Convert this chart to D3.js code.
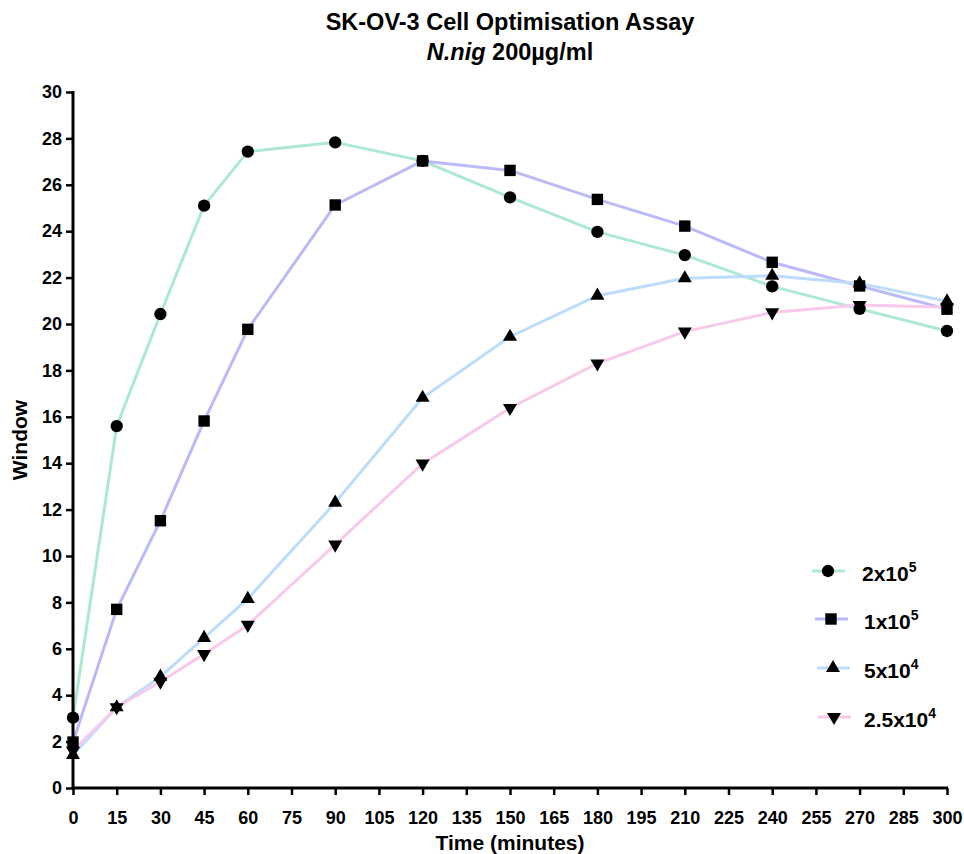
<!DOCTYPE html>
<html><head><meta charset="utf-8">
<script src="https://cdn.jsdelivr.net/npm/d3@7"></script>
<style>body{margin:0;background:#fff}svg{font-family:"Liberation Sans",Arial,sans-serif}</style>
</head><body><svg id="c" width="964" height="854"></svg>
<script>
const times = [0,15,30,45,60,90,120,150,180,210,240,270,300];
const s2e5  = [3.03,15.6,20.43,25.1,27.43,27.83,27.03,25.46,23.97,22.97,21.62,20.65,19.7];
const s1e5  = [1.98,7.7,11.52,15.82,19.77,25.13,27.03,26.62,25.37,24.22,22.66,21.64,20.64];
const s5e4  = [1.42,3.48,4.8,6.47,8.15,12.3,16.82,19.45,21.22,21.97,22.08,21.75,20.98];
const s25e4 = [1.6,3.48,4.58,5.77,7.03,10.49,13.98,16.38,18.3,19.67,20.5,20.82,20.72];
const seriesNames = ["2x10|5","1x10|5","5x10|4","2.5x10|4"];
const seriesColors = ["#ade9d2","#babaf9","#bcdcfb","#f9c9ec"];
const seriesSymbols = ["circle","square","triangle","triangleDown"];
const xTicks = d3.range(0,301,15);
const yTicks = d3.range(0,31,2);
const allSeries = [s2e5,s1e5,s5e4,s25e4];

const svg = d3.select("#c");
const x = d3.scaleLinear().domain([0,300]).range([73,947]);
const y = d3.scaleLinear().domain([0,30]).range([788,92]);

function marker(g, type){
  const sizes = {circle:120, square:130, triangle:85, triangleDown:85};
  const st = type==="circle"?d3.symbolCircle:type==="square"?d3.symbolSquare:d3.symbolTriangle;
  const p = g.append("path").attr("d", d3.symbol(st, sizes[type])()).attr("fill","#000");
  if(type==="triangleDown") p.attr("transform","rotate(180)");
  return p;
}

// lines
const line = d3.line().x((d,i)=>x(times[i])).y(d=>y(d)).curve(d3.curveLinear);
allSeries.forEach((s,k)=>{
  svg.append("path").attr("d", line(s)).attr("fill","none")
    .attr("stroke", seriesColors[k]).attr("stroke-width",3).attr("stroke-linejoin","round");
});
// markers
allSeries.forEach((s,k)=>{
  s.forEach((v,i)=>{
    const g = svg.append("g").attr("transform",`translate(${x(times[i])},${y(v)})`);
    marker(g, seriesSymbols[k]);
  });
});

// axes
const xAxis = svg.append("g").attr("transform","translate(0,788)")
  .call(d3.axisBottom(x).tickValues(xTicks).tickSize(7).tickSizeOuter(0).tickPadding(16));
const yAxis = svg.append("g").attr("transform","translate(73,0)")
  .call(d3.axisLeft(y).tickValues(yTicks).tickSize(7).tickSizeOuter(0).tickPadding(4));
[xAxis,yAxis].forEach(a=>{
  a.attr("font-size",18);
  a.select(".domain").attr("stroke","#000").attr("stroke-width",3);
  a.selectAll(".tick line").attr("stroke","#000").attr("stroke-width",2.5);
  a.selectAll(".tick text").attr("fill","#000").attr("font-size",18).attr("font-weight","bold")
   .style("font-size","18px").style("font-weight","bold")
   .attr("font-family","'Liberation Sans',Arial,sans-serif");
});
xAxis.selectAll(".tick text").attr("y",23).attr("dy","0.71em");
xAxis.select(".domain").attr("d","M72,0H948");
yAxis.select(".domain").attr("d","M0,91V789.5");

// titles
svg.append("text").attr("x",510).attr("y",30).attr("text-anchor","middle")
  .attr("font-size",23.5).attr("font-weight","bold").text("SK-OV-3 Cell Optimisation Assay");
const t2 = svg.append("text").attr("x",510).attr("y",60).attr("text-anchor","middle")
  .attr("font-size",23.5).attr("font-weight","bold");
t2.append("tspan").attr("font-style","italic").text("N.nig");
t2.append("tspan").text(" 200µg/ml");

svg.append("text").attr("x",510).attr("y",850).attr("text-anchor","middle")
  .attr("font-size",21).attr("font-weight","bold").text("Time (minutes)");
svg.append("text").attr("transform","translate(27,440) rotate(-90)").attr("text-anchor","middle")
  .attr("font-size",21).attr("font-weight","bold").text("Window");

// legend
const legY = [571,619,668,717];
const legX0 = [812,815,817,818];
seriesNames.forEach((n,k)=>{
  const g = svg.append("g").attr("transform",`translate(${legX0[k]},${legY[k]})`);
  g.append("line").attr("x1",0).attr("x2",33).attr("stroke",seriesColors[k]).attr("stroke-width",3);
  const mg = g.append("g").attr("transform","translate(16,0)");
  marker(mg, seriesSymbols[k]);
  const [base, ex] = n.split("|");
  const t = g.append("text").attr("x",862-legX0[k]+(k===0?0:2)).attr("y",10).attr("font-size",21).attr("font-weight","bold");
  t.append("tspan").text(base);
  t.append("tspan").attr("dy",-9).attr("font-size",14).text(ex);
});
</script></body></html>
